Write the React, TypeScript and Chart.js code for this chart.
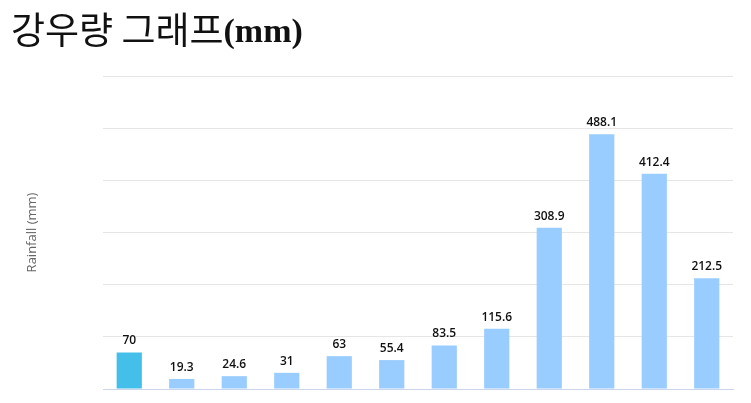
import React, { useEffect, useRef } from "react";
import { Chart, registerables } from "chart.js";

Chart.register(...registerables);

const categories = ["1월", "2월", "3월", "4월", "5월", "6월", "7월", "8월", "9월", "10월", "11월", "12월"];
const rainfall = [70, 19.3, 24.6, 31, 63, 55.4, 83.5, 115.6, 308.9, 488.1, 412.4, 212.5];
const barColors = ["#44bfea", "#99ccff", "#99ccff", "#99ccff", "#99ccff", "#99ccff", "#99ccff", "#99ccff", "#99ccff", "#99ccff", "#99ccff", "#99ccff"];
const yTitle = "Rainfall (mm)";
const titleKo = "강우량 그래프";
const titleUnit = "(mm)";

const valueLabels = {
  id: "valueLabels",
  afterDatasetsDraw(chart: any) {
    const ctx = chart.ctx;
    const meta = chart.getDatasetMeta(0);
    const data = chart.data.datasets[0].data as number[];
    ctx.save();
    ctx.font = "600 12px 'Open Sans'";
    ctx.fillStyle = "#111";
    ctx.textAlign = "center";
    ctx.textBaseline = "alphabetic";
    meta.data.forEach((bar: any, i: number) => {
      ctx.fillText(String(data[i]), bar.x, bar.y - 8);
    });
    ctx.restore();
  },
};

export default function App() {
  const ref = useRef<HTMLCanvasElement>(null);
  useEffect(() => {
    const chart = new Chart(ref.current!, {
      type: "bar",
      data: {
        labels: categories,
        datasets: [
          {
            data: rainfall,
            backgroundColor: barColors,
            barPercentage: 0.48,
            categoryPercentage: 1,
          },
        ],
      },
      options: {
        animation: false,
        responsive: false,
        maintainAspectRatio: false,
        layout: { padding: { top: 76, right: 18, bottom: 14, left: 0 } },
        plugins: { legend: { display: false }, tooltip: { enabled: false }, title: { display: false } },
        scales: {
          x: {
            grid: { display: false, drawTicks: false },
            border: { display: true, color: "#ccd6eb", width: 1 },
            ticks: { display: false },
            afterFit: (s: any) => {
              s.height = 0;
            },
          },
          y: {
            min: 0,
            max: 600,
            ticks: { display: false, stepSize: 100 },
            grid: { color: "#e6e6e6", drawTicks: false },
            border: { display: false },
            title: {
              display: true,
              text: yTitle,
              color: "#666",
              font: { family: "'Open Sans'", size: 13 },
              padding: { top: 24, bottom: 0 },
            },
            afterFit: (s: any) => {
              s.width = 103;
            },
          },
        },
      },
      plugins: [valueLabels],
    });
    return () => chart.destroy();
  }, []);
  return (
    <div style={{ position: "fixed", left: 0, top: 0, width: 751, height: 403, background: "#fff" }}>
      <canvas ref={ref} width={751} height={403} style={{ position: "absolute", left: 0, top: 0 }} />
      <div
        style={{
          position: "absolute",
          left: 11,
          top: 8,
          lineHeight: "40px",
          whiteSpace: "nowrap",
          color: "#111",
        }}
      >
        <span style={{ fontFamily: "'Noto Sans CJK KR'", fontWeight: 400, fontSize: 37 }}>{titleKo}</span>
        <span style={{ fontFamily: "'Liberation Serif'", fontWeight: 700, fontSize: 34, position: "relative", top: -2 }}>{titleUnit}</span>
      </div>
    </div>
  );
}
